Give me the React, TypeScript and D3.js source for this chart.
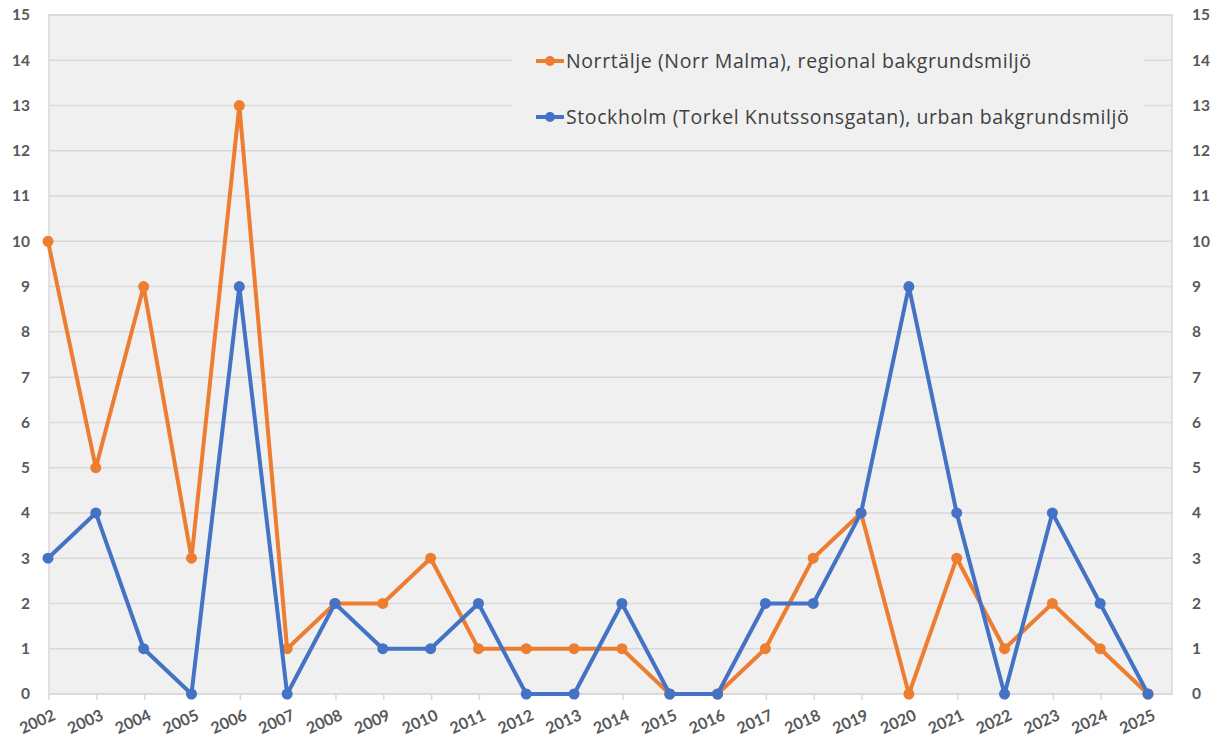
import React from "react";
import * as d3 from "d3";

const years = [2002, 2003, 2004, 2005, 2006, 2007, 2008, 2009, 2010, 2011, 2012, 2013, 2014, 2015, 2016, 2017, 2018, 2019, 2020, 2021, 2022, 2023, 2024, 2025];
const norrtalje = [10, 5, 9, 3, 13, 1, 2, 2, 3, 1, 1, 1, 1, 0, 0, 1, 3, 4, 0, 3, 1, 2, 1, 0];
const stockholm = [3, 4, 1, 0, 9, 0, 2, 1, 1, 2, 0, 0, 2, 0, 0, 2, 2, 4, 9, 4, 0, 4, 2, 0];
const yTicks = d3.range(0, 16);
const seriesNames = [
  "Norrtälje (Norr Malma), regional bakgrundsmiljö",
  "Stockholm (Torkel Knutssonsgatan), urban bakgrundsmiljö",
];
const colors = ["#ED7D31", "#4472C4"];

export default function App() {
  const W = 1222, H = 751;
  const plotL = 49, plotR = 1172, plotT = 15, plotB = 694;
  const x = d3.scaleLinear().domain([2002, 2025]).range([48, 1148]);
  const y = d3.scaleLinear().domain([0, 15]).range([plotB, plotT]);
  const line = d3.line<number>().x((_, i) => x(years[i])).y((d) => y(d));
  const series = [norrtalje, stockholm];
  const font = "Lato, 'Open Sans', sans-serif";
  const legendFont = "'Open Sans', Lato, sans-serif";
  return (
    <svg width={W} height={H} style={{ position: "absolute", left: 0, top: 0, background: "#fff" }}>
      <rect x={plotL} y={plotT} width={plotR - plotL} height={plotB - plotT} fill="#f0f0f0" stroke="#d9d9d9" strokeWidth={1.5} />
      {yTicks.map((t) => (
        <line key={t} x1={plotL} x2={plotR} y1={y(t)} y2={y(t)} stroke="#d9d9d9" strokeWidth={1.5} />
      ))}
      {years.map((yr) => (
        <line key={yr} x1={x(yr) + 1} x2={x(yr) + 1} y1={plotB} y2={plotB + 6} stroke="#d9d9d9" strokeWidth={1.5} />
      ))}
      {/* legend box */}
      <rect x={512} y={22} width={632} height={118} fill="#f0f0f0" />
      {yTicks.map((t) => (
        <g key={"l" + t}>
          <text x={30} y={y(t)} dy="0.35em" textAnchor="end" fontFamily={font} fontWeight="bold" fontSize={15.5} fill="#595959">{t}</text>
          <text x={1192} y={y(t)} dy="0.35em" textAnchor="start" fontFamily={font} fontWeight="bold" fontSize={15.5} fill="#595959">{t}</text>
        </g>
      ))}
      {years.map((yr) => (
        <text key={"x" + yr} transform={`translate(${x(yr) + 4},${plotB + 15}) rotate(-24)`} textAnchor="end" dy="0.7em"
          fontFamily={font} fontWeight="bold" fontSize={16} fill="#595959">{yr}</text>
      ))}
      {series.map((s, si) => (
        <g key={"s" + si}>
          <path d={line(s) || ""} fill="none" stroke={colors[si]} strokeWidth={4} strokeLinejoin="round" />
          {s.map((v, i) => (
            <circle key={i} cx={x(years[i])} cy={y(v)} r={5.5} fill={colors[si]} />
          ))}
        </g>
      ))}
      {seriesNames.map((n, i) => {
        const ly = 61 + i * 56;
        return (
          <g key={"lg" + i}>
            <line x1={536} x2={564} y1={ly} y2={ly} stroke={colors[i]} strokeWidth={4} />
            <circle cx={550} cy={ly} r={5} fill={colors[i]} />
            <text x={566} y={ly} dy="0.35em" fontFamily={legendFont} fontSize={19.5} letterSpacing={0.6} fill="#404040">{n}</text>
          </g>
        );
      })}
    </svg>
  );
}
